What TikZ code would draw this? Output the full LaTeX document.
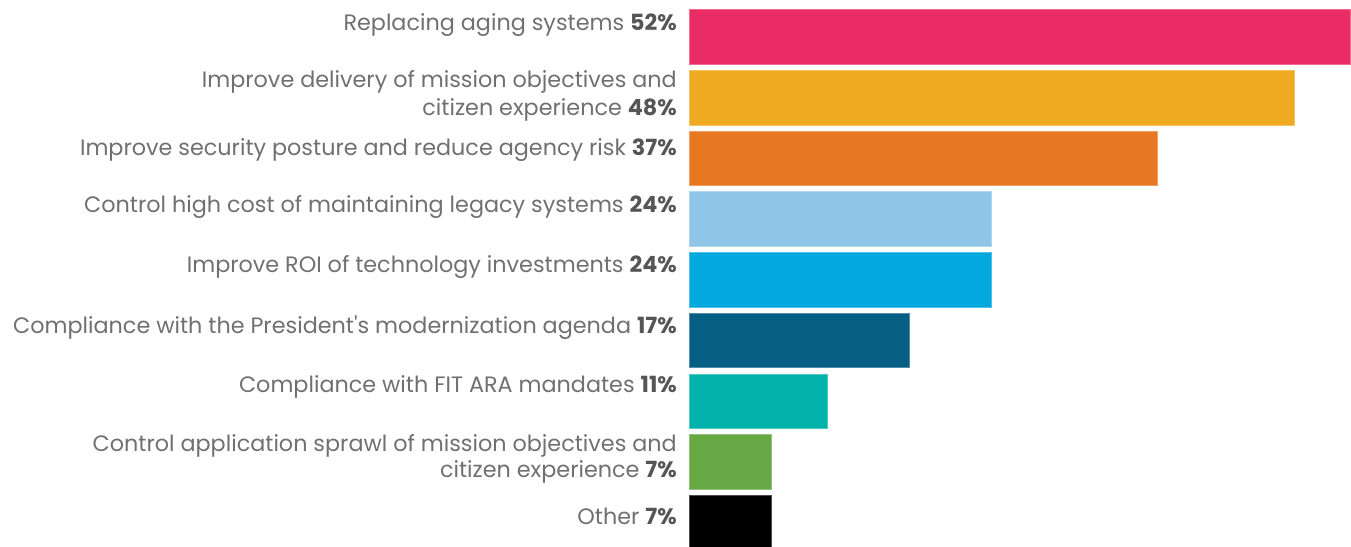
\documentclass[tikz,border=0pt]{standalone}
\usepackage{fontspec}
\setmainfont{Poppins}
\usetikzlibrary{positioning}

\definecolor{barpink}{HTML}{E92C63}
\definecolor{baryellow}{HTML}{F0AA21}
\definecolor{barorange}{HTML}{E87722}
\definecolor{barlightblue}{HTML}{8FC6E8}
\definecolor{barblue}{HTML}{00A8E0}
\definecolor{bardarkblue}{HTML}{065E84}
\definecolor{barteal}{HTML}{00B2A9}
\definecolor{bargreen}{HTML}{65A844}
\definecolor{labelgray}{HTML}{707070}
\definecolor{pctgray}{HTML}{555555}

\tikzset{
  bar/.style={draw=#1!70!white,line width=1pt,fill=#1},
  label/.style={anchor=base east,text=labelgray,inner sep=0pt,
    font=\fontsize{22.3}{28}\selectfont},
}
\newcommand{\pct}[1]{\textbf{\color{pctgray}#1}}

\begin{document}
\begin{tikzpicture}[x=1pt,y=-1pt]
        \useasboundingbox (0,0) rectangle (1351,546);
        % bars
        \draw[bar=barpink] (689,9) rectangle (1350,64);
        \draw[bar=baryellow] (689,70) rectangle (1294,125);
        \draw[bar=barorange] (689,131) rectangle (1157,185);
        \draw[bar=barlightblue] (689,191) rectangle (991,246);
        \draw[bar=barblue] (689,252) rectangle (991,307);
        \draw[bar=bardarkblue] (689,313) rectangle (909,367);
        \draw[bar=barteal] (689,374) rectangle (827,428);
        \draw[bar=bargreen] (689,434) rectangle (771,489);
        \draw[bar=black] (689,495) rectangle (771,547);
        % labels (placed on their baselines)
        \node[label] (aging) at (677,30) {Replacing aging systems \pct{52\%}};
        \node[label] (mission) at (677,87) {Improve delivery of mission objectives and};
        \node[label] (missionb) at (677,115) {citizen experience \pct{48\%}};
        \node[label] (security) at (677,155) {Improve security posture and reduce agency risk \pct{37\%}};
        \node[label] (legacy) at (677,212) {Control high cost of maintaining legacy systems \pct{24\%}};
        \node[label] (roi) at (677,272) {Improve ROI of technology investments \pct{24\%}};
        \node[label] (president) at (677,333) {Compliance with the President\textquotesingle s modernization agenda \pct{17\%}};
        \node[label] (fitara) at (677,392) {Compliance with FIT ARA mandates \pct{11\%}};
        \node[label] (sprawl) at (677,451) {Control application sprawl of mission objectives and};
        \node[label] (sprawlb) at (677,477) {citizen experience \pct{7\%}};
        \node[label] (other) at (677,524) {Other \pct{7\%}};
    \end{tikzpicture}
\end{document}
